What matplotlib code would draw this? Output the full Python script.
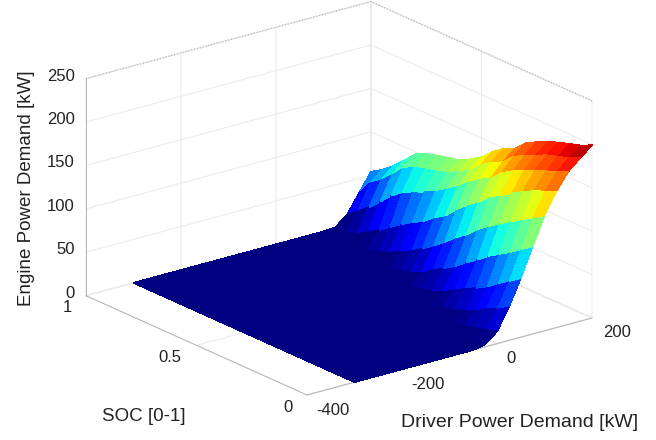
import numpy as np
import matplotlib
matplotlib.use('Agg')
import matplotlib.pyplot as plt
from matplotlib.colors import Normalize
from mpl_toolkits.mplot3d import proj3d

plt.rcParams['font.family'] = ['Liberation Sans', 'DejaVu Sans']
plt.rcParams['grid.color'] = '#ececec'
plt.rcParams['grid.linewidth'] = 0.8

# %%
#the data

soc = [0, .05, .1, .15, .2, .25, .3, .35, .4, .45, .5, .55, .6, .65, .7, .75, .8, .85, .9, .95, 1]
power = [-300, -100, -50, -25, 0, 25, 50, 75, 100, 125, 150, 175, 200]

z_m300 = [0]*21
z_m100 = [0]*21
z_m50 = [0]*21
z_m25 = [3, 1, 0, 0, 0, 0, 0, 0, 0, 0, 0, 0, 0, 0, 0, 0, 0, 0, 0, 0, 0]
z_0 = [14, 10, 7, 3, 0, 0, 0, 0, 0, 0, 0, 0, 0, 0, 0, 0, 0, 0, 0, 0, 0]
z_25 = [38, 30, 25, 17, 11, 7, 3, 0, 0, 0, 0, 0, 0, 0, 0, 0, 0, 0, 0, 0, 0]
z_50 = [68, 59, 51, 41, 34, 27, 20, 12, 7, 4, 0, 0, 0, 0, 0, 0, 0, 0, 0, 0, 0]
z_75 = [101, 92, 83, 75, 67, 57, 48, 38, 30, 22, 13, 8, 4, 0, 0, 0, 0, 0, 0, 0, 0]
z_100 = [133, 125, 117, 109, 101, 92, 83, 71, 62, 51, 41, 32, 23, 17, 10, 5, 1, 0, 0, 0, 0]
z_125 = [157, 151, 146, 139, 132, 124, 117, 105, 96, 85, 72, 64, 54, 47, 39, 30, 21, 13, 5, 1, 1]
z_150 = [176, 170, 165, 160, 154, 148, 140, 128, 121, 112, 101, 92, 84, 78, 73, 66, 57, 44, 32, 22, 12]
z_175 = [188, 182, 178, 174, 168, 162, 155, 143, 137, 128, 116, 109, 102, 98, 95, 91, 84, 71, 59, 50, 33]
z_200 = [199, 193, 189, 185, 180, 174, 167, 155, 149, 140, 128, 120, 113, 110, 107, 103, 97, 84, 72, 62, 54]

x_ticks = [-400, -200, 0, 200]
y_ticks = [0, 0.5, 1]
z_ticks = [0, 50, 100, 150, 200, 250]

# %%
#the surface

Z = np.array([z_m300, z_m100, z_m50, z_m25, z_0, z_25, z_50, z_75, z_100, z_125, z_150, z_175, z_200], dtype=float)
S, P = np.meshgrid(soc, power)

fig = plt.figure(figsize=(6.56, 4.4), dpi=100)
ax = fig.add_axes([0.1, 0.1, 0.6, 0.6*656/440], projection='3d', proj_type='ortho')
ax.view_init(elev=20.4, azim=-127.8)
ax.set_box_aspect((360.6, 360.6, 231.5))

#flat colour per facet from its first corner
colors = plt.cm.jet(Normalize(0, 199)(Z))
ax.plot_surface(P, S, Z, facecolors=colors, rstride=1, cstride=1, linewidth=0.4, antialiased=False, shade=False)

ax.set_xlim(-400, 200)
ax.set_ylim(0, 1)
ax.set_zlim(0, 250)
ax.set_xticks(x_ticks)
ax.set_yticks(y_ticks)
ax.set_zticks(z_ticks)
ax.set_xticklabels([])
ax.set_yticklabels([])
ax.set_zticklabels([])

for axis in (ax.xaxis, ax.yaxis, ax.zaxis):
    axis.pane.set_facecolor('white')
    axis.pane.set_edgecolor('#d8d8d8')
    axis.line.set_color('#b4b4b4')
    axis.line.set_linewidth(0.7)
    axis._axinfo['tick']['inward_factor'] = 0
    axis._axinfo['tick']['outward_factor'] = 0

#dotted top edges of the box
ax.plot([-400, 200], [1, 1], [250, 250], ls=':', color='#b0b0b0', lw=0.8)
ax.plot([200, 200], [0, 1], [250, 250], ls=':', color='#b0b0b0', lw=0.8)


# %%
#fit the box onto the reference corners (pixels from the top left)

def px(x, y, z):
    xs, ys, _ = proj3d.proj_transform(x, y, z, ax.get_proj())
    a, b = ax.transData.transform((xs, ys))
    return np.array([a, 440 - b])

front, right = np.array([307., 395.]), np.array([592., 318.])

fig.canvas.draw()
k = np.linalg.norm(right - front)/np.linalg.norm(px(200, 0, 0) - px(-400, 0, 0))
pos = ax.get_position(original=True)
ax.set_position([pos.x0, pos.y0, pos.width*k, pos.height*k])
fig.canvas.draw()
d = front - px(-400, 0, 0)
pos = ax.get_position(original=True)
ax.set_position([pos.x0 + d[0]/656, pos.y0 - d[1]/440, pos.width, pos.height])
fig.canvas.draw()


# %%
#labels

def put(x, y, txt, **kw):
    fig.text(x/656, 1 - y/440, txt, color='#222222', va='center', **kw)

fs = 12
for t in z_ticks:
    p = px(-400, 1, t)
    put(p[0] - 11, p[1] - 2.5, str(t), ha='right', fontsize=fs)
for t, dx in zip(x_ticks, [26, 26, 14, 25]):
    p = px(t, 0, 0)
    put(p[0] + dx, p[1] + 15, str(t), ha='center', fontsize=fs)
for t, dx in zip(y_ticks, [-19, -27, -19]):
    p = px(-400, t, 0)
    put(p[0] + dx, p[1] + 12, str(t), ha='center', fontsize=fs)

put(144, 416, 'SOC [0-1]', ha='center', fontsize=13.5)
put(520, 422, 'Driver Power Demand [kW]', ha='center', fontsize=14)
put(27, 188, 'Engine Power Demand [kW]', ha='center', rotation=90, fontsize=13.5)

fig.savefig('out.png', dpi=100)
